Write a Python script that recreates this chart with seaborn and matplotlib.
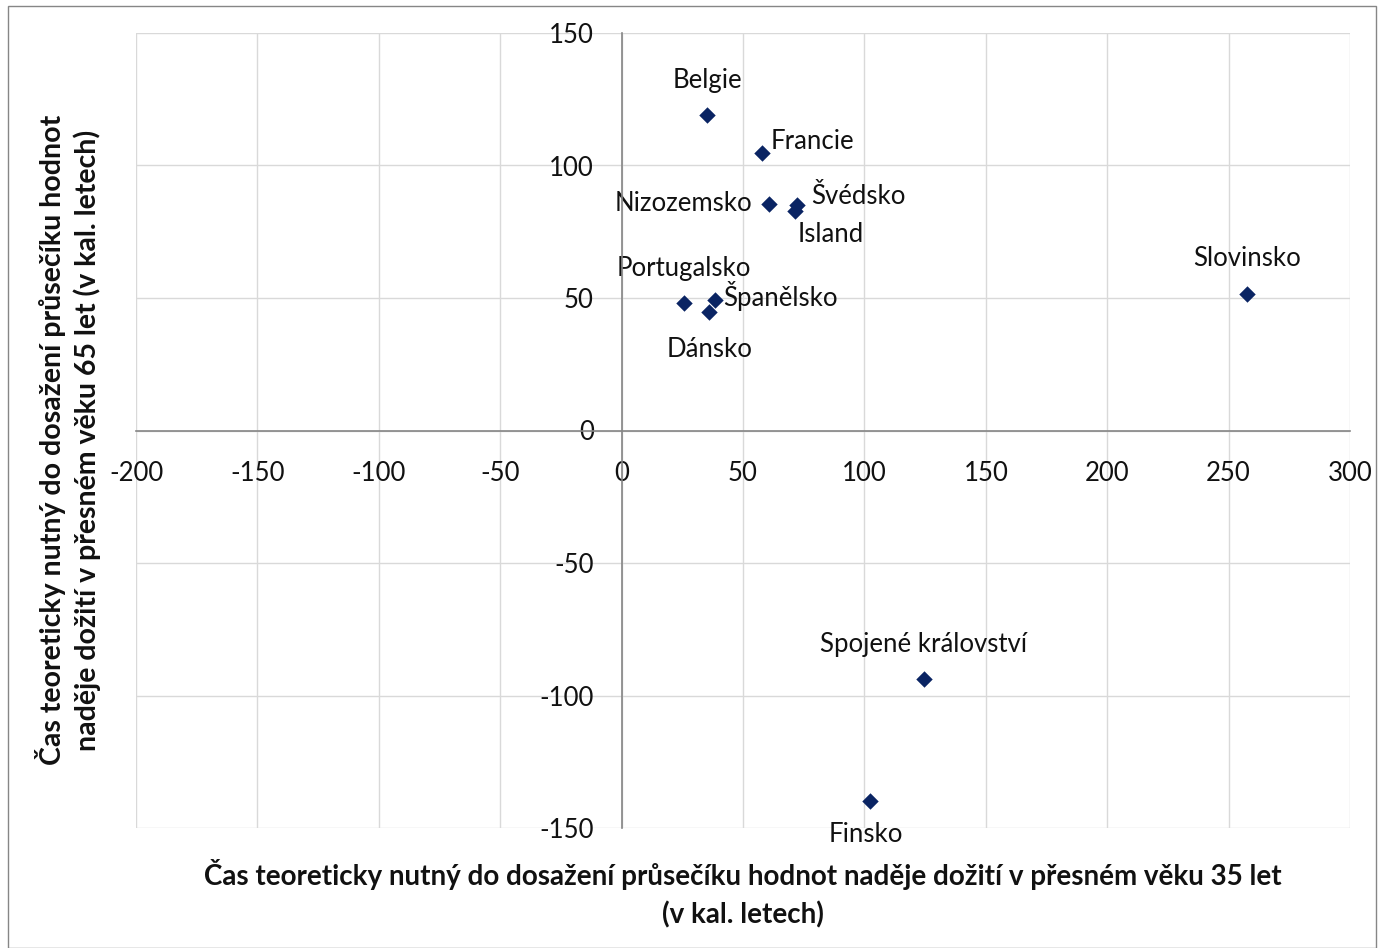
import matplotlib
matplotlib.use("Agg")
import matplotlib.pyplot as plt
import seaborn as sns
import pandas as pd
from matplotlib.patches import Rectangle

countries = ["Belgie", "Francie", "Nizozemsko", "Švédsko", "Island", "Portugalsko",
             "Španělsko", "Dánsko", "Slovinsko", "Spojené království", "Finsko"]
years_35 = [35.2, 57.9, 60.7, 72.4, 71.5, 25.6, 38.4, 36.1, 257.6, 124.4, 102.4]
years_65 = [118.9, 104.7, 85.5, 85.1, 82.9, 48.2, 49.2, 44.8, 51.4, -93.9, -139.9]

x_ticks = [-200, -150, -100, -50, 0, 50, 100, 150, 200, 250, 300]
y_ticks = [-150, -100, -50, 0, 50, 100, 150]

x_title = ("Čas teoreticky nutný do dosažení průsečíku hodnot naděje dožití v přesném věku 35 let\n"
           "(v kal. letech)")
y_title = ("Čas teoreticky nutný do dosažení průsečíku hodnot\n"
           "naděje dožití v přesném věku 65 let (v kal. letech)")

# label offsets (points) and alignment for each country
label_pos = {
    "Belgie": ((0, 25), "center"),
    "Francie": ((6, 8), "left"),
    "Nizozemsko": ((-12, 0), "right"),
    "Švédsko": ((10, 6), "left"),
    "Island": ((2, -17), "left"),
    "Portugalsko": ((0, 25), "center"),
    "Španělsko": ((6, 3), "left"),
    "Dánsko": ((0, -27), "center"),
    "Slovinsko": ((0, 26), "center"),
    "Spojené království": ((0, 25), "center"),
    "Finsko": ((-3, -24), "center"),
}

df = pd.DataFrame({"country": countries, "x": years_35, "y": years_65})

sns.set_theme(style="white")
plt.rcParams["font.family"] = ["Lato", "DejaVu Sans"]

fig = plt.figure(figsize=(13.79, 9.48), dpi=100)
ax = fig.add_axes([136 / 1379, 1 - 828 / 948, (1350 - 136) / 1379, (828 - 33) / 948])

sns.scatterplot(data=df, x="x", y="y", marker="D", s=70, color="#0a2463",
                edgecolor="#0a2463", linewidth=0, ax=ax, zorder=5)

for name, xv, yv in zip(countries, years_35, years_65):
    off, ha = label_pos[name]
    ax.annotate(name, (xv, yv), xytext=off, textcoords="offset points",
                ha=ha, va="center", fontsize=18.5, color="#111111")

ax.set_xlim(-200, 300)
ax.set_ylim(-150, 150)
ax.set_xticks(x_ticks)
ax.set_yticks(y_ticks)
ax.set_xticklabels([str(t) for t in x_ticks])
ax.set_yticklabels([str(t) for t in y_ticks])

ax.grid(True, color="#d9d9d9", linewidth=1.0)
ax.set_axisbelow(True)

for side in ("top", "right"):
    ax.spines[side].set_visible(False)
ax.spines["left"].set_position(("data", 0))
ax.spines["bottom"].set_position(("data", 0))
for side in ("left", "bottom"):
    ax.spines[side].set_color("#868686")
    ax.spines[side].set_linewidth(1.2)
    ax.spines[side].set_zorder(3)

ax.tick_params(axis="both", direction="inout", length=8, width=1.2, color="#868686",
               labelsize=18.5, labelcolor="#111111")
ax.tick_params(axis="x", pad=18)
ax.tick_params(axis="y", pad=16)

ax.set_xlabel("")
ax.set_ylabel("")
fig.text(743 / 1379, 1 - 894 / 948, x_title, ha="center", va="center",
         fontsize=20, fontweight="bold", linespacing=1.5, color="#111111")
fig.text(68 / 1379, 1 - 440 / 948, y_title, ha="center", va="center", rotation=90,
         fontsize=20.5, fontweight="bold", linespacing=1.35, color="#111111")

fig.patches.append(Rectangle((8 / 1379, 0.5 / 948), (1376 - 8) / 1379, (945 - 0.5) / 948 - 3 / 948,
                             transform=fig.transFigure, fill=False,
                             edgecolor="#868686", linewidth=1.0))

fig.savefig("out.png", dpi=100, facecolor="white")
